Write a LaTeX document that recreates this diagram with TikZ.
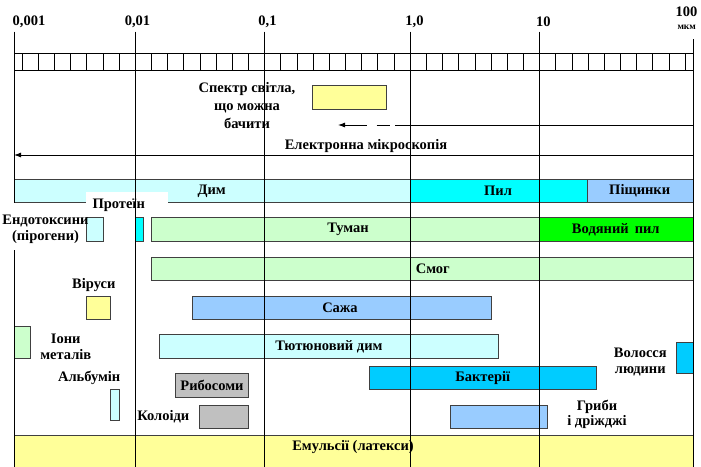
\documentclass[tikz,border=0pt]{standalone}
\usepackage{fontspec}
\setmainfont{Liberation Serif}
\usetikzlibrary{arrows.meta}

\definecolor{paleCyan}{HTML}{CCFFFF}
\definecolor{fullCyan}{HTML}{00FFFF}
\definecolor{skyBlue}{HTML}{99CCFF}
\definecolor{deepSky}{HTML}{00CCFF}
\definecolor{paleGreen}{HTML}{CCFFCC}
\definecolor{fullGreen}{HTML}{00FF00}
\definecolor{paleYellow}{HTML}{FFFF99}
\definecolor{greyBox}{HTML}{C0C0C0}

\begin{document}
\begin{tikzpicture}[x=1pt, y=-1pt,
    every node/.style={font=\fontsize{14.5}{16}\selectfont\bfseries, inner sep=0pt, align=center},
    bar/.style={draw=black!75, line width=0.9pt},
    decade/.style={black, line width=0.9pt},
    >={Latex[length=7pt,width=5pt]}  % small solid heads
]
    \useasboundingbox (0,0) rectangle (701,466);

    % scale ruler
    \draw[line width=0.7pt] (14,53.3) rectangle (693,70);
    \foreach \k in {0,...,41}
        \draw[line width=0.7pt] ({22.1+16.17*\k},53.3) -- ++(0,16.7);

    % bars
    \draw[bar, fill=paleYellow] (312.7,85) rectangle (386,109.3);
    \draw[bar, fill=paleCyan] (14,179.3) rectangle (410.3,202.7);
    \draw[bar, fill=fullCyan] (410.3,179.3) rectangle (587.7,202.7);
    \draw[bar, fill=skyBlue] (587.7,179.3) rectangle (693,202.7);
    \draw[bar, fill=paleCyan] (86,217.7) rectangle (103.3,241);
    \draw[bar, fill=fullCyan] (135,217.7) rectangle (143.3,241);
    \draw[bar, fill=paleGreen] (151,217.7) rectangle (539.3,241);
    \draw[bar, fill=fullGreen] (539.3,217.7) rectangle (693,241);
    \draw[bar, fill=paleGreen] (151,257.3) rectangle (693,280);
    \draw[bar, fill=paleYellow] (86,296.7) rectangle (110.7,319.3);
    \draw[bar, fill=skyBlue] (192,296) rectangle (491,319.3);
    \draw[bar, fill=paleGreen] (14,326.7) rectangle (30,358.3);
    \draw[bar, fill=paleCyan] (159.3,334.3) rectangle (498.3,358.3);
    \draw[bar, fill=deepSky] (676,342.7) rectangle (693,373.3);
    \draw[bar, fill=deepSky] (369.3,366) rectangle (596,389.3);
    \draw[bar, fill=greyBox] (175.7,373.3) rectangle (248.3,397.3);
    \draw[bar, fill=paleCyan] (110.7,389.3) rectangle (119.3,420);
    \draw[bar, fill=greyBox] (199.3,405) rectangle (248.3,428.3);
    \draw[bar, fill=skyBlue] (450.7,405) rectangle (547.3,428.3);
    \draw[bar, fill=paleYellow] (14,435.7) rectangle (693,472);

    \fill[white] (86,192.3) rectangle (167.7,214);

    % decades
    \foreach \x in {14,135,264,410.3,539.3}
        \draw[decade] (\x,31.7) -- (\x,470);
    \draw[decade] (693,39) -- (693,470);

    % microscopes
    \coordinate (lightR) at (693,125);
    \coordinate (lightM) at (395,125);
    \coordinate (lightL) at (338,125);
    \coordinate (elecR) at (693,155);
    \coordinate (elecL) at (14,155);
    \draw[decade] (lightR) -- (lightM);
    \draw[decade, <-, dash pattern=on 22pt off 10pt on 13pt off 20pt] (lightL) -- (lightM);
    \draw[decade, ->] (elecR) -- (elecL);

    \fill[white] (4,203) rectangle (85.5,250);

    % axis
    \node (d0) at (29,21.7) {0,001};
    \node (d1) at (137.5,21.7) {0,01};
    \node (d2) at (267.5,21.7) {0,1};
    \node (d3) at (414.5,21.7) {1,0};
    \node (d4) at (543.3,21.7) {10};
    \node (d5) at (686.5,11.7) {100};
    \node[font=\fontsize{9.5}{10}\selectfont\bfseries] (unit) at (686.7,27) {мкм};

    % labels
    \node[font=\fontsize{14.5}{18}\selectfont\bfseries] (light) at (247,106) {Спектр світла,\\що можна\\бачити};
    \node (elec) at (366,145.7) {Електронна мікроскопія};
    \node (dym) at (211.7,191) {Дим};
    \node (pyl) at (498,191) {Пил};
    \node (sand) at (639.7,191) {Піщинки};
    \node (prot) at (118.7,205) {Протеїн};
    \node (endo) at (45.5,229.7) {Ендотоксини\\(пірогени)};
    \node (fog) at (348,229.3) {Туман};
    \node (water) at (615.8,229.3) {Водяний\, пил};
    \node (smog) at (432.8,268.7) {Смог};
    \node (vir) at (93.8,285) {Віруси};
    \node (soot) at (340,307.7) {Сажа};
    \node (ions) at (65.8,347) {Іони\\металів};
    \node (tob) at (329,346.3) {Тютюновий дим};
    \node (hair) at (640.3,362) {Волосся\\людини};
    \node (bact) at (482.7,377.7) {Бактерії};
    \node (alb) at (89.2,378.3) {Альбумін};
    \node (ribo) at (212,385.3) {Рибосоми};
    \node (coll) at (163.3,416.7) {Колоіди};
    \node[font=\fontsize{14.5}{14.5}\selectfont\bfseries] (fungi) at (597,414.5) {Гриби\\і дріжджі};
    \node (emul) at (353,447) {Емульсії (латекси)};
\end{tikzpicture}
\end{document}
